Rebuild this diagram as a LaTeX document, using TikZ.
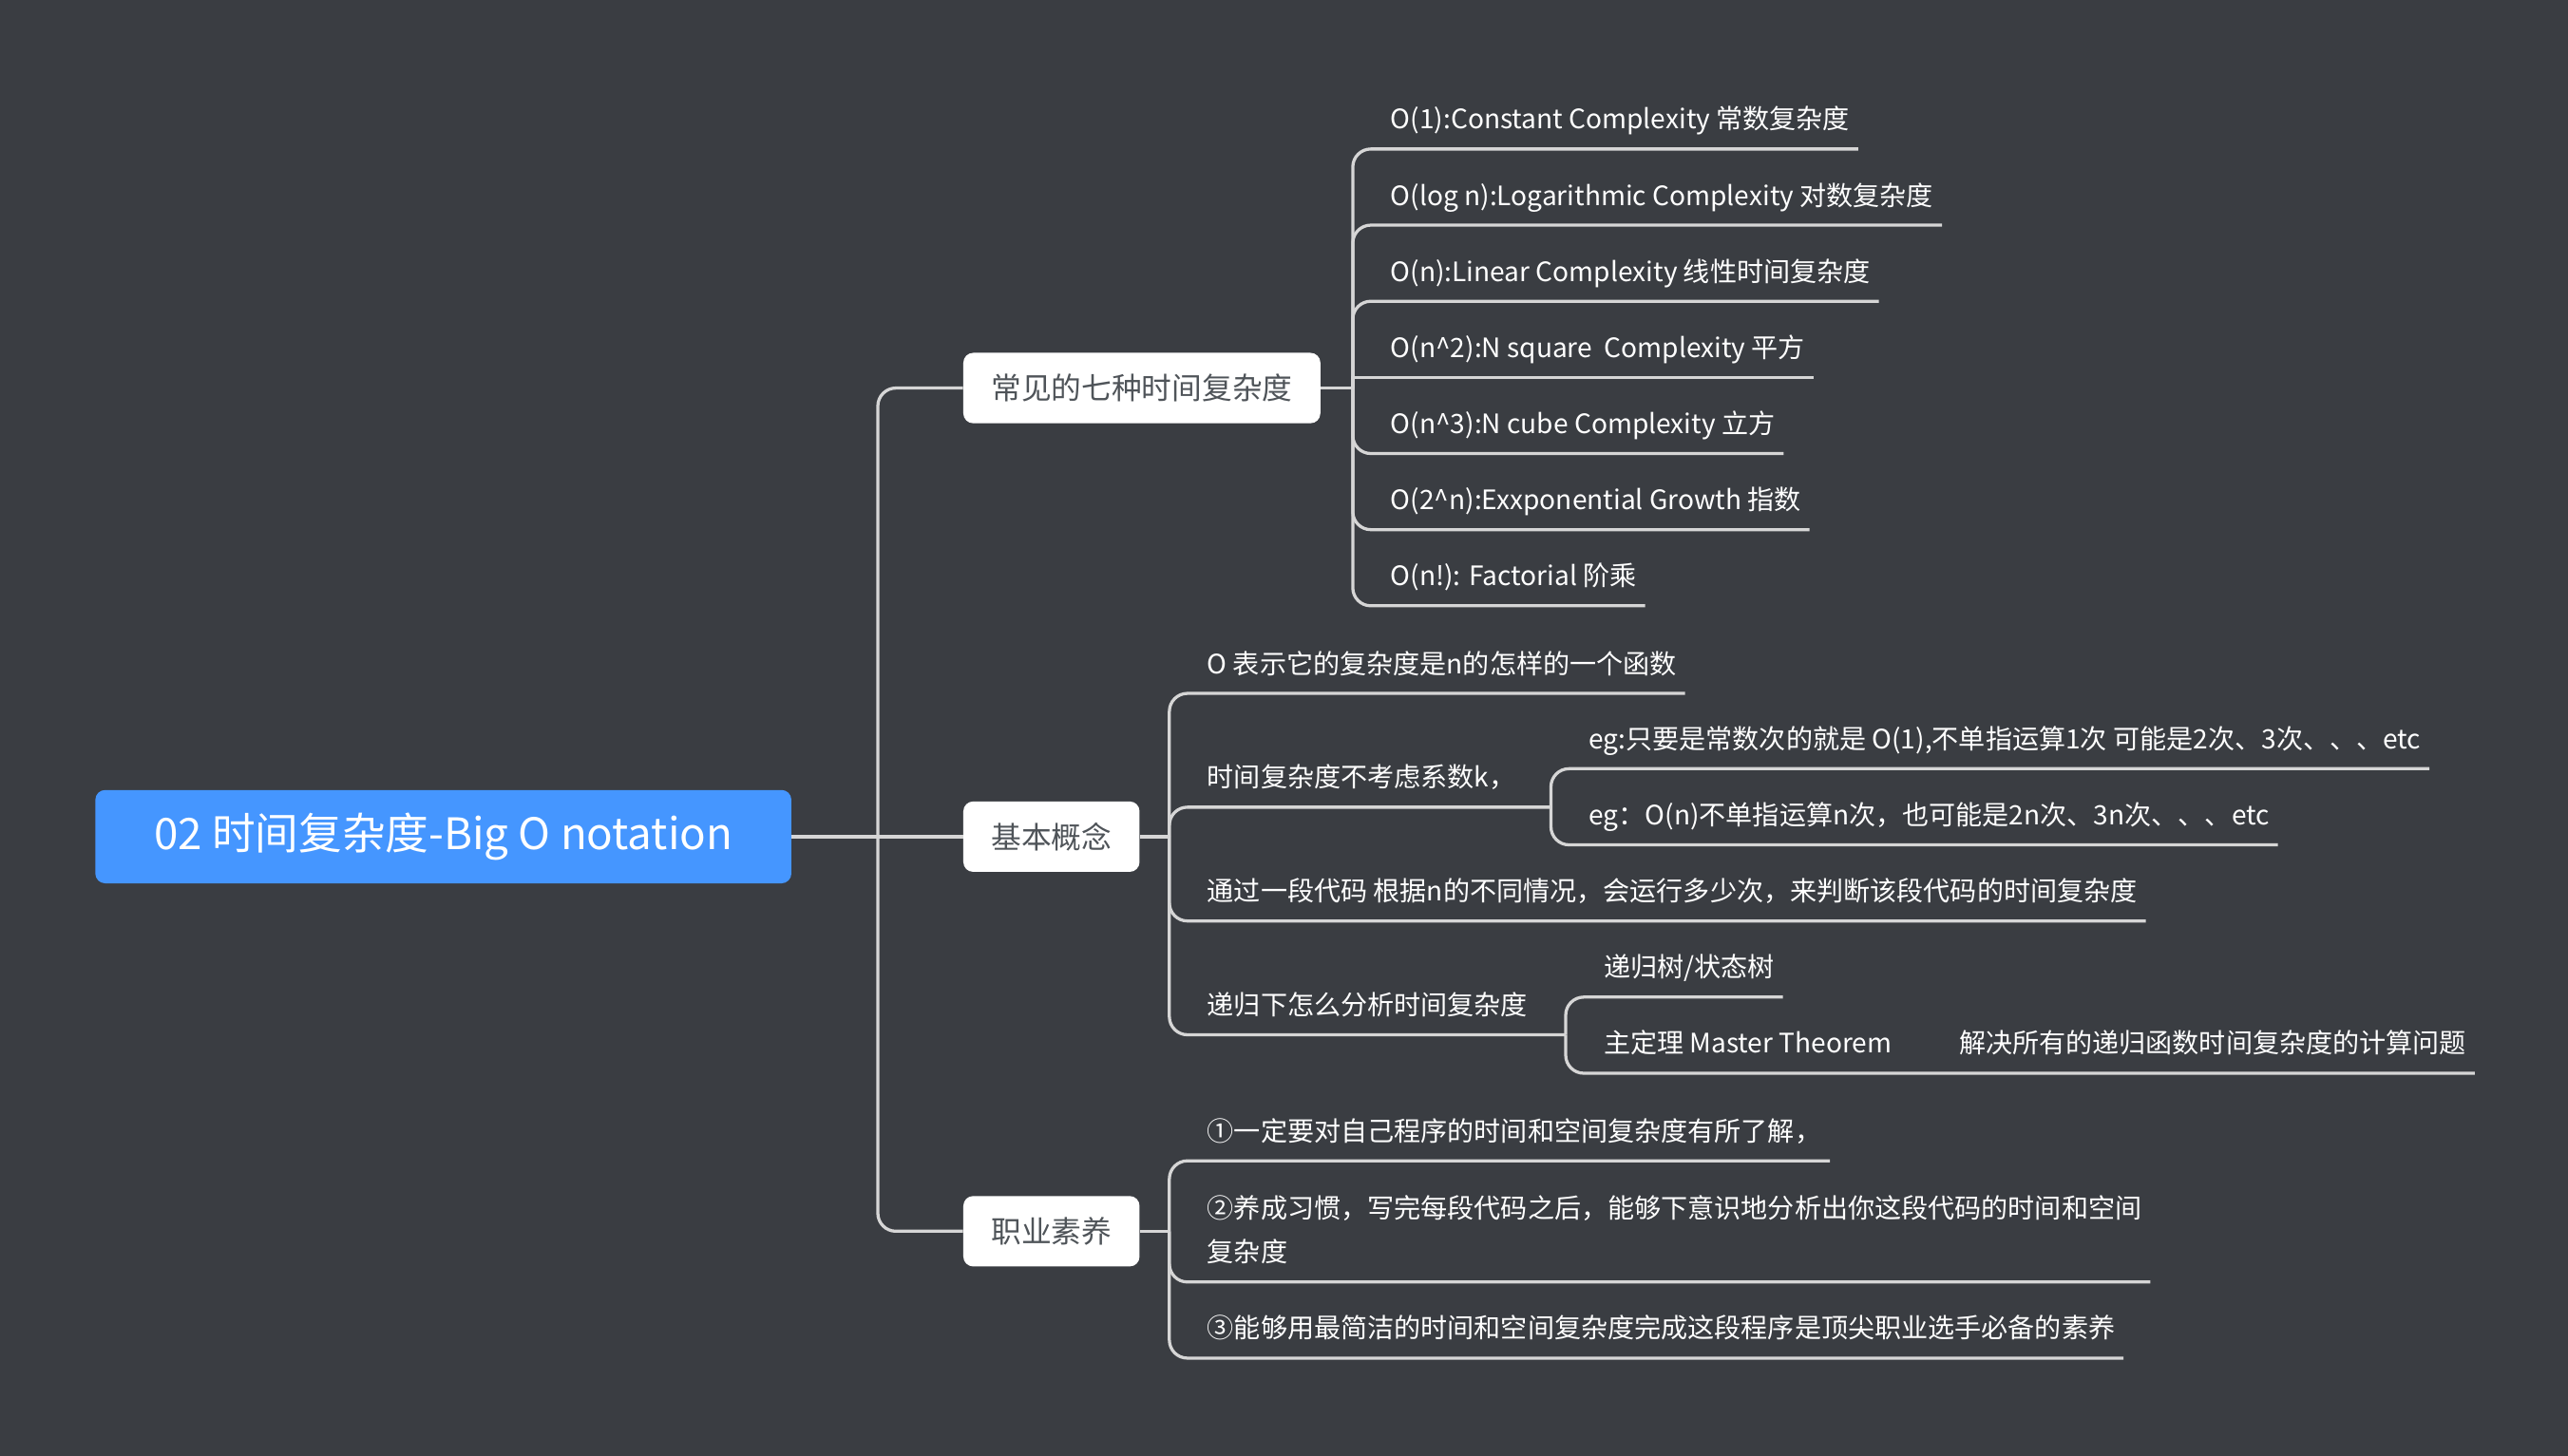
\documentclass[tikz,border=0pt]{standalone}
\usepackage{fontspec}
\setmainfont{Noto Sans CJK SC}
\usepackage{tikz}
\usepackage{xcolor}
\definecolor{bgdark}{HTML}{3A3D42}
\definecolor{linegray}{HTML}{D6D6D6}
\definecolor{rootblue}{HTML}{4596FF}
\definecolor{boxtext}{HTML}{4F5459}

\begin{document}
\begin{tikzpicture}[x=1pt, y=-1pt]

        % 1. Canvas and background
        \useasboundingbox (0,0) rectangle (1568,889);
        \fill[bgdark] (0,0) rectangle (1568,889);

        % 2. Styles for the root, the topics, the leaves and the links
        \tikzset{
            rootnode/.style={fill=rootblue, text=white, rounded corners=6pt, minimum width=425pt, minimum height=57pt, anchor=west, font=\fontsize{26.5}{32}\selectfont},
            topic/.style={fill=white, text=boxtext, rounded corners=6pt, inner xsep=17pt, minimum height=43pt, anchor=west, font=\fontsize{18.4}{22}\selectfont},
            leaf/.style={anchor=south west, inner xsep=0pt, inner ysep=0pt, text depth=12pt, text=white, font=\fontsize{16.3}{27}\selectfont},
            link/.style={draw=linegray, line width=1.9pt, rounded corners=11pt}
        }

        % 3. Root, the three topics and the spines
        \node[rootnode] (root) at (58,511) {02 时间复杂度-Big O notation};
        \node[topic] (seven) at (588,237) {常见的七种时间复杂度};
        \node[topic] (basic) at (588,511) {基本概念};
        \node[topic] (career) at (588,752) {职业素养};

        \coordinate (spine) at (536,511);   % main spine
        \coordinate (sevenS) at (826,237);  % spine of the seven complexities
        \coordinate (basicS) at (714,511);  % spine of the basic concepts
        \coordinate (careerS) at (714,752); % spine of the career part
        \coordinate (coefS) at (947,493);   % sub spine under "coef"
        \coordinate (recS) at (956,632);    % sub spine under "recur"

        \draw[link] (root.east) -- (spine) -- (basic.west);
        \draw[link] (spine) |- (seven.west);
        \draw[link] (spine) |- (career.west);

        % 4. The seven complexities
        \node[leaf] (o1) at (849,91) {O(1):Constant Complexity 常数复杂度};
        \node[leaf] (ologn) at (849,137.5) {O(log n):Logarithmic Complexity 对数复杂度};
        \node[leaf] (on) at (849,184) {O(n):Linear Complexity 线性时间复杂度};
        \node[leaf] (onsq) at (849,230.5) {O(n\textasciicircum 2):N square~ Complexity 平方};
        \node[leaf] (oncube) at (849,277) {O(n\textasciicircum 3):N cube Complexity 立方};
        \node[leaf] (otwon) at (849,323.5) {O(2\textasciicircum n):Exxponential Growth 指数};
        \node[leaf] (ofact) at (849,370) {O(n!): Factorial 阶乘};

        \draw[link] (seven.east) -- (sevenS);
        \foreach \lf in {o1, ologn, on, oncube, otwon, ofact}
            \draw[link] (sevenS) |- (\lf.south west) -- ([xshift=5pt]\lf.south east);
        \draw[link, sharp corners] (sevenS) |- (onsq.south west) -- ([xshift=5pt]onsq.south east);

        % 5. Basic concepts
        \node[leaf] (bigO) at (737,423.5) {O 表示它的复杂度是n的怎样的一个函数};
        \node[leaf] (coef) at (737,493) {时间复杂度不考虑系数k，};
        \node[leaf] (egconst) at (970,469.5) {eg:只要是常数次的就是 O(1),不单指运算1次 可能是2次、3次、、、etc};
        \node[leaf] (eglin) at (970,516) {eg：O(n)不单指运算n次，也可能是2n次、3n次、、、etc};
        \node[leaf] (count) at (737,562.5) {通过一段代码 根据n的不同情况，会运行多少次，来判断该段代码的时间复杂度};
        \node[leaf] (recur) at (737,632) {递归下怎么分析时间复杂度};
        \node[leaf] (rtree) at (979,609) {递归树/状态树};
        \node[leaf] (master) at (979,655.5) {主定理 Master Theorem};
        \node[leaf] (solve) at (1196,655.5) {解决所有的递归函数时间复杂度的计算问题};

        \draw[link] (basic.east) -- (basicS);
        \foreach \lf in {bigO, count}
            \draw[link] (basicS) |- (\lf.south west) -- ([xshift=5pt]\lf.south east);
        \draw[link] (basicS) |- (coef.south west) -- (coefS);
        \draw[link] (basicS) |- (recur.south west) -- (recS);
        \foreach \lf in {egconst, eglin}
            \draw[link] (coefS) |- (\lf.south west) -- ([xshift=5pt]\lf.south east);
        \draw[link] (recS) |- (rtree.south west) -- ([xshift=5pt]rtree.south east);
        \draw[link] (recS) |- (master.south west) -- (solve.south west) -- ([xshift=5pt]solve.south east);

        % 6. Career
        \node[leaf] (aware) at (737,709) {①一定要对自己程序的时间和空间复杂度有所了解，};
        \node[leaf] (habit) at (737,783) {\vbox{\baselineskip=27pt\hbox{②养成习惯，写完每段代码之后，能够下意识地分析出你这段代码的时间和空间}\hbox{复杂度}}};
        \node[leaf] (best) at (737,829.5) {③能够用最简洁的时间和空间复杂度完成这段程序是顶尖职业选手必备的素养};

        \draw[link] (career.east) -- (careerS);
        \foreach \lf in {aware, habit, best}
            \draw[link] (careerS) |- (\lf.south west) -- ([xshift=5pt]\lf.south east);

    \end{tikzpicture}
\end{document}
